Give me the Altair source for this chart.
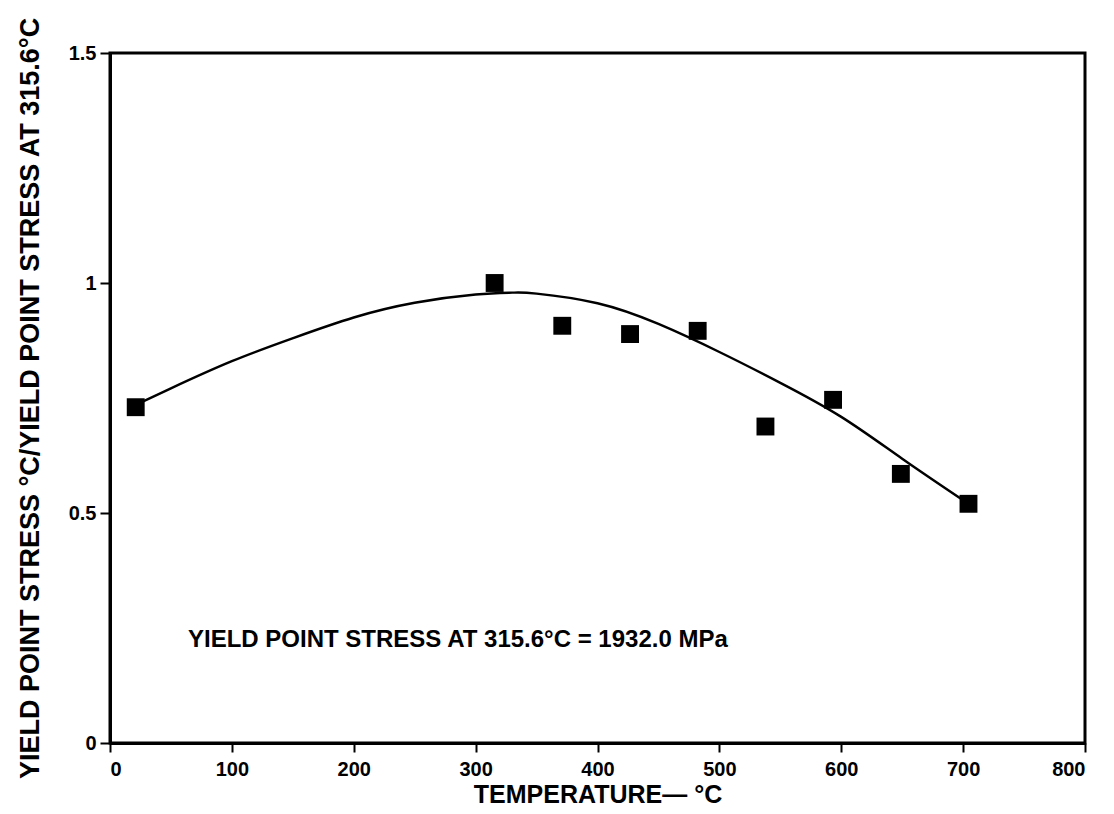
import altair as alt
import pandas as pd

# measured points (temperatures originally in °F steps)
temp_c = [21.1, 315.6, 371.1, 426.7, 482.2, 537.8, 593.3, 648.9, 704.4]
ratio = [0.730, 1.000, 0.907, 0.889, 0.896, 0.688, 0.746, 0.585, 0.520]

# fitted curve
curve_t = [21.1, 50, 100, 150, 200, 250, 300, 330, 350, 400, 450, 500, 550, 600, 650, 704.4]
curve_r = [0.735, 0.771, 0.830, 0.880, 0.925, 0.957, 0.975, 0.979, 0.977, 0.956, 0.911, 0.850,
           0.783, 0.709, 0.618, 0.520]

x_ticks = [0, 100, 200, 300, 400, 500, 600, 700, 800]
y_ticks = [0, 0.5, 1, 1.5]

note = "YIELD POINT STRESS AT 315.6°C = 1932.0 MPa"

FONT = "Liberation Sans"

pts = pd.DataFrame({"t": temp_c, "r": ratio})
cur = pd.DataFrame({"t": curve_t, "r": curve_r})

xs = alt.Scale(domain=[0, 800], nice=False, zero=False)
ys = alt.Scale(domain=[0, 1.5], nice=False, zero=False)

xax = alt.Axis(values=x_ticks, title="TEMPERATURE— °C", grid=False,
               labelFont=FONT, labelFontSize=20, labelFontWeight="bold", labelColor="black",
               titleFont=FONT, titleFontSize=25, titleFontWeight="bold", titleColor="black",
               tickSize=9, tickWidth=2, tickColor="black", domainColor="black", domainWidth=3,
               labelPadding=7, titlePadding=3)
yax = alt.Axis(values=y_ticks, title="YIELD POINT STRESS °C/YIELD POINT STRESS AT 315.6°C",
               grid=False, labelExpr="datum.value == 0 ? '0' : format(datum.value, '.1~f')",
               labelFont=FONT, labelFontSize=20, labelFontWeight="bold", labelColor="black",
               titleFont=FONT, titleFontSize=27, titleFontWeight="bold", titleColor="black",
               tickSize=10, tickWidth=2, tickColor="black", domainColor="black", domainWidth=3,
               labelPadding=4, titlePadding=24)

line = alt.Chart(cur).mark_line(color="black", strokeWidth=2.4, interpolate="natural").encode(
    x=alt.X("t:Q", scale=xs, axis=xax),
    y=alt.Y("r:Q", scale=ys, axis=yax),
)
squares = alt.Chart(pts).mark_square(color="black", opacity=1, size=320).encode(
    x=alt.X("t:Q", scale=xs),
    y=alt.Y("r:Q", scale=ys),
)
label = alt.Chart(pd.DataFrame({"txt": [note]})).mark_text(
    align="left", baseline="middle", font=FONT, fontSize=24, fontWeight="bold", color="black"
).encode(x=alt.value(78), y=alt.value(587), text="txt:N")

chart = alt.layer(line, squares, label).properties(
    width=975, height=690, autosize="none", background="white",
    padding={"left": 102, "top": 45, "right": 21, "bottom": 63},
).configure_view(stroke="black", strokeWidth=3)

chart.save("out.html", embed_options={"renderer": "svg", "actions": False})
